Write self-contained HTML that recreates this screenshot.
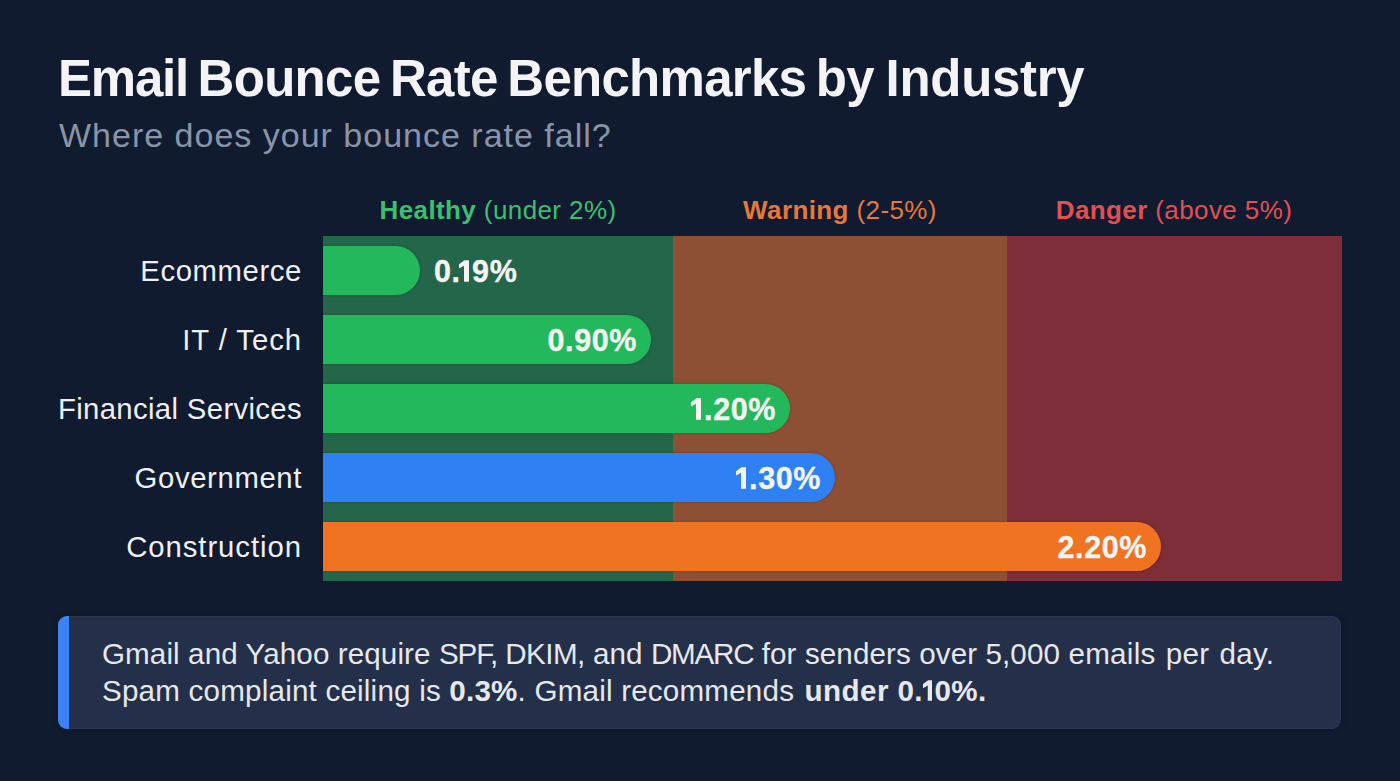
<!DOCTYPE html>
<html><head><meta charset="utf-8">
<style>
html,body{margin:0;padding:0;}
body{width:1400px;height:781px;overflow:hidden;background:#101b2f;font-family:"Liberation Sans",sans-serif;position:relative;}
.abs{position:absolute;white-space:nowrap;}
#title{left:58px;top:51px;font-size:51px;letter-spacing:-0.72px;word-spacing:-3.8px;font-weight:700;color:#f4f4f6;line-height:56px;}
#sub{left:59px;top:115px;font-size:34px;letter-spacing:1px;color:#8a94a8;line-height:40px;}
.leg{top:195px;font-size:26px;letter-spacing:0.4px;line-height:30px;text-align:center;width:340px;}
.leg b{font-weight:700;}
.zone{position:absolute;top:236px;height:345px;}
.lab{position:absolute;right:1098px;font-size:29.3px;letter-spacing:0.35px;color:#eef0f4;line-height:49px;text-align:right;}
.bar{position:absolute;left:323px;height:49px;border-radius:0 24.5px 24.5px 0;box-shadow:0 0 3px rgba(0,0,0,0.25);}
.val{position:absolute;font-size:30.5px;letter-spacing:0.6px;font-weight:700;color:#f4f4f2;line-height:49px;margin-top:1px;-webkit-text-stroke:0.35px #f4f4f2;}
.one{display:inline-block;vertical-align:baseline;margin:0 3px 0 1px;}
.one2{display:inline-block;vertical-align:baseline;margin:0 2px 0 0;}
#box{position:absolute;left:58px;top:616px;width:1283px;height:113px;border-radius:9px;background:#243049;overflow:hidden;box-shadow:0 0 6px rgba(0,0,0,0.25),inset 0 0 0 1px rgba(255,255,255,0.03);}
#box .edge{position:absolute;left:0;top:0;bottom:0;width:11px;background:#3b82f6;}
#box .txt{position:absolute;left:44px;top:19px;font-size:29.6px;letter-spacing:0px;line-height:37px;color:#e6e8ec;white-space:nowrap;}
</style></head><body>
<div id="title" class="abs"><span style="letter-spacing:-1.22px">Email</span> Bounce Rate Benchmarks by <span style="letter-spacing:-0.3px;margin-left:2px">Industry</span></div>
<div id="sub" class="abs">Where does your bounce rate fall?</div>

<div class="abs leg" style="left:328px;color:#3dbf70"><b>Healthy</b> (under 2%)</div>
<div class="abs leg" style="left:670px;color:#e8773a"><b>Warning</b> (2-5%)</div>
<div class="abs leg" style="left:1004px;color:#e14f51"><b>Danger</b> (above 5%)</div>

<div class="zone" style="left:323px;width:350px;background:#24664a"></div>
<div class="zone" style="left:673px;width:334px;background:#8e5035"></div>
<div class="zone" style="left:1007px;width:335px;background:#7d2e39"></div>

<div class="lab" style="top:246px;letter-spacing:0.6px">Ecommerce</div>
<div class="lab" style="top:315px;letter-spacing:0.95px">IT / Tech</div>
<div class="lab" style="top:384px">Financial Services</div>
<div class="lab" style="top:453px;letter-spacing:0.62px">Government</div>
<div class="lab" style="top:522px;letter-spacing:0.95px">Construction</div>

<div class="bar" style="top:246px;width:97px;background:#23b85b"></div>
<div class="bar" style="top:315px;width:328px;background:#23b85b"></div>
<div class="bar" style="top:384px;width:467px;background:#23b85b"></div>
<div class="bar" style="top:453px;width:512px;background:#2f80f2"></div>
<div class="bar" style="top:522px;width:838px;background:#f07322"></div>

<div class="val" style="left:434px;top:246px">0<span style="letter-spacing:-2px">.</span><svg class="one" width="10" height="22" viewBox="0 0 10 21.6"><path d="M5.4 0H10V21.6H5V5.6L0 8.4V4Z" fill="currentColor"/></svg>9%</div>
<div class="val" style="right:763px;top:315px">0.90%</div>
<div class="val" style="right:624px;top:384px"><svg class="one" width="10" height="22" viewBox="0 0 10 21.6"><path d="M5.4 0H10V21.6H5V5.6L0 8.4V4Z" fill="currentColor"/></svg>.20%</div>
<div class="val" style="right:579px;top:453px"><svg class="one" width="10" height="22" viewBox="0 0 10 21.6"><path d="M5.4 0H10V21.6H5V5.6L0 8.4V4Z" fill="currentColor"/></svg>.30%</div>
<div class="val" style="right:253px;top:522px">2.20%</div>

<div id="box"><div class="edge"></div>
<div class="txt"><div style="letter-spacing:0.1px">Gmail and Yahoo require <span style="letter-spacing:-1.1px">SPF,</span> <span style="letter-spacing:-0.6px">DKIM,</span> and <span style="letter-spacing:-1.2px">DMARC</span> for senders over 5,000 <span style="letter-spacing:0.3px;word-spacing:1.5px">emails per day.</span></div><div style="letter-spacing:0.2px">Spam complaint ceiling is <b>0.3%</b>. Gmail recommends <b style="letter-spacing:0.4px;margin-left:2px">under 0.<svg class="one2" width="9.5" height="21" viewBox="0 0 10 21.6"><path d="M5.4 0H10V21.6H5V5.6L0 8.4V4Z" fill="currentColor"/></svg>0%.</b></div></div>
</div>
</body></html>
